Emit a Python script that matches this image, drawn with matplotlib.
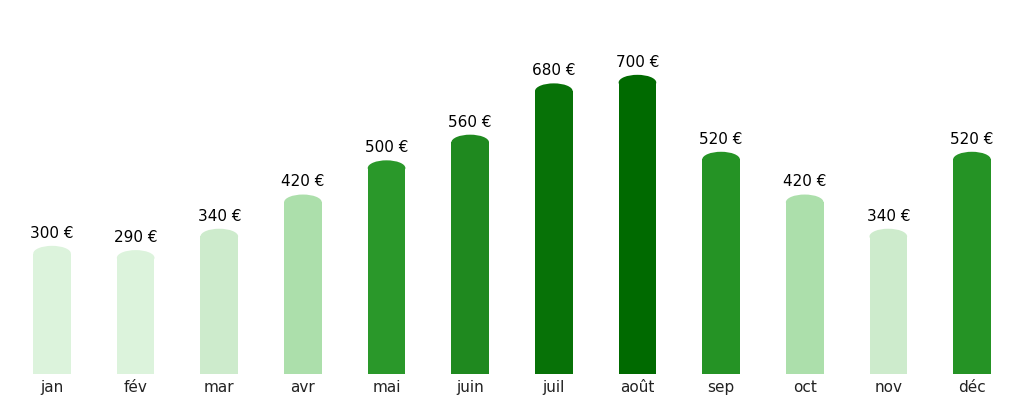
import matplotlib
matplotlib.use("Agg")
import matplotlib.pyplot as plt
from matplotlib.patches import Ellipse

months = ["jan","fév","mar","avr","mai","juin","juil","août","sep","oct","nov","déc"]
values = [300,290,340,420,500,560,680,700,520,420,340,520]
colors = ["#dcf3dc","#dcf3dc","#cdebcc","#acdfab","#2a982a","#1f891f","#077207","#006a00",
          "#259325","#acdfab","#cdebcc","#259325"]

fig = plt.figure(figsize=(10.24,4.04), dpi=100)
ax = fig.add_axes([0.01,0.074,0.98,0.926])
w = 0.45
cap = 18
for i,(v,c) in enumerate(zip(values,colors)):
    ax.bar(i, v-cap, width=w, color=c, linewidth=0)
    ax.add_patch(Ellipse((i, v-cap), w, 2*cap, color=c, linewidth=0))
    ax.text(i, v+12, f"{v} €", ha="center", va="bottom", fontsize=11)
ax.set_xlim(-0.5, 11.5)
ax.set_ylim(0, 875)
ax.set_xticks(range(12))
ax.set_xticklabels(months, fontsize=11, color="#222222")
ax.tick_params(length=0, pad=4)
ax.set_yticks([])
for s in ax.spines.values():
    s.set_visible(False)
fig.savefig("out.png", dpi=100)
